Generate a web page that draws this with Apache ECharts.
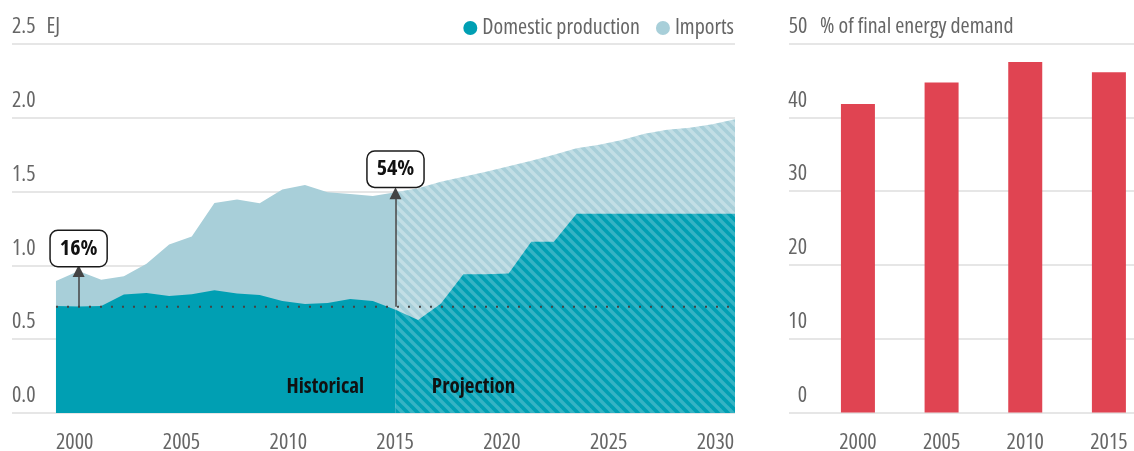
<!DOCTYPE html>
<html>
<head>
<meta charset="utf-8">
<script src="https://cdn.jsdelivr.net/npm/echarts@6/dist/echarts.min.js"></script>
<style>
html,body{margin:0;padding:0;background:#fff;}
#main{width:1134px;height:451px;}
</style>
</head>
<body>
<div id="main"></div>
<script>
// ---------- DATA ----------
const histYears = [2000,2001,2002,2003,2004,2005,2006,2007,2008,2009,2010,2011,2012,2013,2014,2015];
const histDomestic = [0.725,0.721,0.725,0.802,0.813,0.793,0.804,0.831,0.809,0.799,0.759,0.739,0.745,0.772,0.759,0.700];
const histImports  = [0.169,0.241,0.178,0.124,0.198,0.349,0.392,0.592,0.637,0.622,0.755,0.806,0.750,0.712,0.712,0.795];

const projYears = [2015,2016,2017,2018,2019,2020,2021,2022,2023,2024,2025,2026,2027,2028,2029,2030];
const projDomestic = [0.700,0.630,0.740,0.940,0.940,0.945,1.160,1.160,1.350,1.350,1.350,1.350,1.350,1.350,1.350,1.350];
const projImports  = [0.795,0.892,0.826,0.661,0.695,0.726,0.549,0.590,0.443,0.468,0.499,0.542,0.569,0.582,0.607,0.641];

const baselineLevel = 0.72;
const annotations = [
  {year: 2001, label: '16%', top: 0.962, boxY: 1.115},
  {year: 2015, label: '54%', top: 1.489, boxY: 1.652}
];

const leftTicks = [2000,2005,2010,2015,2020,2025,2030];

const shareYears = [2000,2005,2010,2015];
const shareValues = [41.8,44.7,47.5,46.1];

// ---------- STYLE ----------
const FONT = '"Open Sans","Roboto Condensed",sans-serif';
const STRETCH = 'condensed';
const FS = 22;
const DARK = '#009fb3';
const LIGHT = '#a8cfd9';
const RED = '#e04452';
const GREY = '#666';

const txt = (extra) => Object.assign({fontFamily: FONT, fontStyle: STRETCH, fontSize: FS, color: GREY}, extra || {});

function stripes(base, stripe) {
  const P = 10;
  const c = document.createElement('canvas');
  c.width = P; c.height = P;
  const g = c.getContext('2d');
  g.fillStyle = base; g.fillRect(0,0,P,P);
  g.strokeStyle = stripe; g.lineWidth = 3.4;
  for (let k = -1; k <= 1; k++) {
    g.beginPath();
    g.moveTo(k*P - 1, -1);
    g.lineTo(k*P + P + 1, P + 1);
    g.stroke();
  }
  return {image: c, repeat: 'repeat'};
}

const pair = (xs, ys) => xs.map((x,i) => [x, ys[i]]);
const sum = (a, b) => a.map((v,i) => v + b[i]);

const chart = echarts.init(document.getElementById('main'));

const areaSeries = (name, xs, ys, color, fill, z) => ({
  name, type: 'line', xAxisIndex: 0, yAxisIndex: 0, z,
  data: pair(xs, ys), symbol: 'none', lineStyle: {width: 0},
  itemStyle: {color}, areaStyle: {color: fill, opacity: 1}
});

const option = {
  animation: false,
  textStyle: {fontFamily: FONT},
  legend: {
    data: ['Domestic production','Imports'],
    right: 395, top: 12,
    icon: 'circle', itemWidth: 14, itemHeight: 14, itemGap: 16,
    textStyle: txt()
  },
  grid: [
    {left: 12, top: 44, width: 723, height: 369, outerBoundsMode: 'none', containLabel: false},
    {left: 789, top: 43.5, width: 345, height: 369, outerBoundsMode: 'none', containLabel: false}
  ],
  xAxis: [
    {type: 'value', gridIndex: 0, min: 1998.057, max: 2030,
     axisLine: {show:false}, axisTick:{show:false}, axisLabel:{show:false}, splitLine:{show:false}},
    {type: 'value', gridIndex: 0, min: 1997.065, max: 2030.915, position: 'bottom',
     axisLine: {show:false}, axisTick:{show:false}, splitLine:{show:false},
     axisLabel: txt({customValues: leftTicks, margin: 19, formatter: v => String(v)})},
    {type: 'value', gridIndex: 1, min: 1995.88, max: 2016.5,
     axisLine: {show:false}, axisTick:{show:false}, splitLine:{show:false},
     axisLabel: txt({customValues: shareYears, margin: 19, formatter: v => String(v)})}
  ],
  yAxis: [
    {type: 'value', gridIndex: 0, min: 0, max: 2.5, interval: 0.5,
     axisLine:{show:false}, axisTick:{show:false},
     splitLine: {lineStyle: {color: '#dedede', width: 1.5}},
     axisLabel: txt({inside: true, margin: 0, verticalAlign: 'bottom', padding: [0,0,6,0],
       formatter: v => v === 2.5 ? '{v|2.5}{u|EJ}' : '{v|' + v.toFixed(1) + '}',
       rich: {v: txt(), u: txt({padding: [0,0,0,11]})}})},
    {type: 'value', gridIndex: 1, min: 0, max: 50, interval: 10,
     axisLine:{show:false}, axisTick:{show:false},
     splitLine: {lineStyle: {color: '#dedede', width: 1.5}},
     axisLabel: txt({inside: true, margin: 0, verticalAlign: 'bottom', padding: [0,0,6,0],
       formatter: v => v === 50 ? '{n|50}{u|% of final energy demand}' : '{n|' + v + '}',
       rich: {n: txt({width: 18, align: 'right'}), u: txt({padding: [0,0,0,13]})}})}
  ],
  series: [
    // totals (domestic + imports) drawn first, domestic drawn over them
    areaSeries('Imports', histYears, sum(histDomestic, histImports), LIGHT, LIGHT, 2),
    areaSeries('Imports projection', projYears, sum(projDomestic, projImports), LIGHT, stripes(LIGHT, '#c2dee5'), 2),
    areaSeries('Domestic production', histYears, histDomestic, DARK, DARK, 3),
    areaSeries('Domestic projection', projYears, projDomestic, DARK, stripes(DARK, '#35b3c4'), 3),
    {name: 'baseline', type: 'line', xAxisIndex: 0, yAxisIndex: 0, z: 5,
     data: [[histYears[0], baselineLevel], [projYears[projYears.length-1], baselineLevel]],
     symbol: 'none', lineStyle: {color: '#444', width: 2, type: [2, 9]},
     markLine: {
       silent: true, symbol: ['none', 'triangle'], symbolSize: [12, 12],
       lineStyle: {color: '#444', width: 1.5, type: 'solid'},
       label: {show: false},
       data: annotations.map(a => [{coord: [a.year, baselineLevel]}, {coord: [a.year, a.top]}])
     },
     markPoint: {
       silent: true, symbol: 'rect', symbolSize: 0,
       data: annotations.map(a => ({coord: [a.year, a.boxY], name: a.label,
         label: txt({show: true, position: 'inside', formatter: a.label,
           fontSize: 22, fontWeight: 'bold', color: '#111',
           backgroundColor: '#fff', borderColor: '#1a1a1a', borderWidth: 1.5, borderRadius: 7,
           padding: [7, 9, 6, 9]})})).concat([
         {coord: [2011.9, 0.178], name: 'Historical',
          label: txt({show: true, position: 'inside', formatter: 'Historical',
            fontSize: 21, fontWeight: 'bold', color: '#111'})},
         {coord: [2018.45, 0.178], name: 'Projection',
          label: txt({show: true, position: 'inside', formatter: 'Projection',
            fontSize: 21, fontWeight: 'bold', color: '#111'})}
       ])
     }},
    {name: 'share', type: 'bar', xAxisIndex: 2, yAxisIndex: 1, barWidth: 34,
     data: pair(shareYears, shareValues), itemStyle: {color: RED}}
  ]
};
chart.setOption(option);
</script>
</body>
</html>
